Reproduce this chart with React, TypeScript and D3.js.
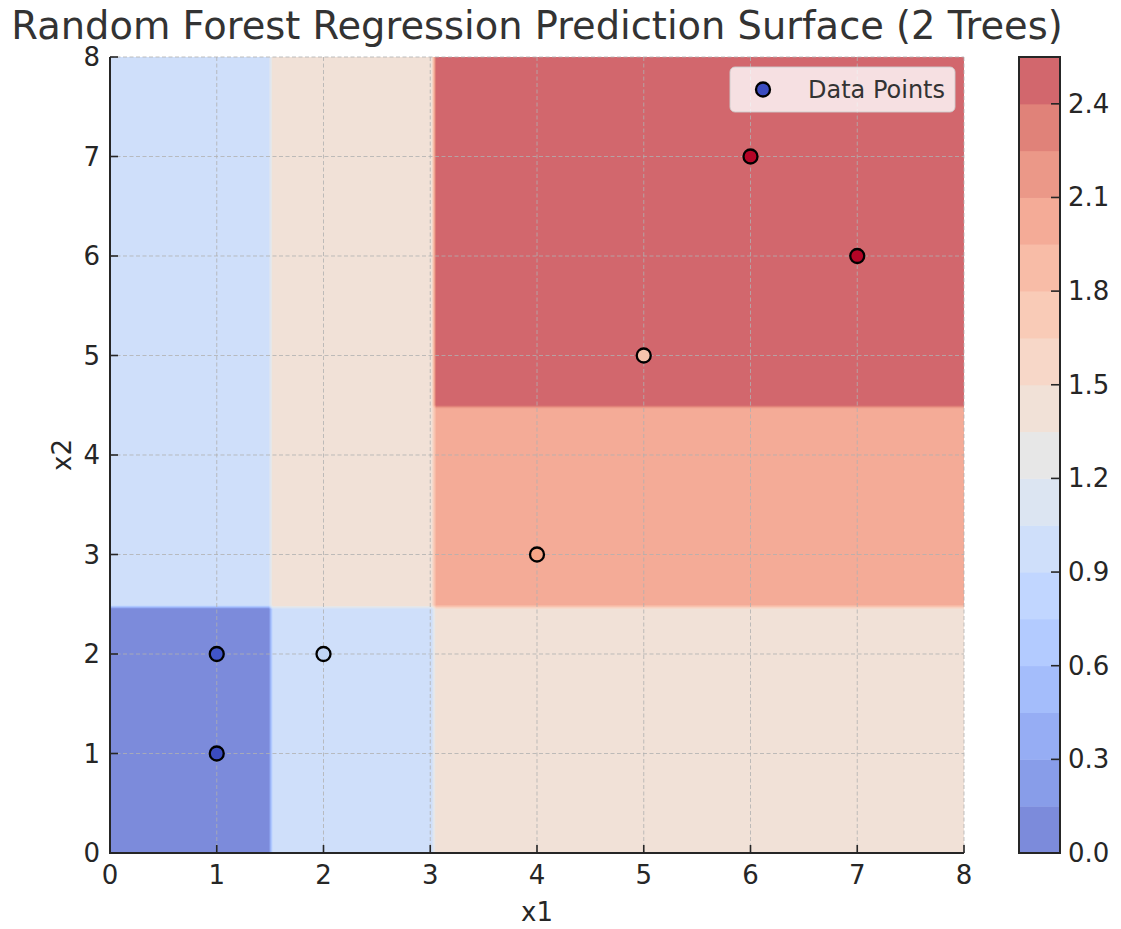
import React from "react";
import * as d3 from "d3";

const title = "Random Forest Regression Prediction Surface (2 Trees)";
const xTicks = [0, 1, 2, 3, 4, 5, 6, 7, 8];
const yTicks = [0, 1, 2, 3, 4, 5, 6, 7, 8];
const cbTicks = [0.0, 0.3, 0.6, 0.9, 1.2, 1.5, 1.8, 2.1, 2.4];
const levels = [0, 0.15, 0.3, 0.45, 0.6, 0.75, 0.9, 1.05, 1.2, 1.35, 1.5, 1.65, 1.8, 1.95, 2.1, 2.25, 2.4, 2.55];

// leaf rectangles of the averaged forest prediction
const regionX0 = [0, 0, 1.5, 1.5, 3.02, 3.02, 3.02];
const regionX1 = [1.5, 1.5, 3.02, 3.02, 8, 8, 8];
const regionY0 = [0, 2.48, 0, 2.48, 0, 2.48, 4.5];
const regionY1 = [2.48, 8, 2.48, 8, 2.48, 4.5, 8];
const regionValue = [0.05, 1.0, 1.0, 1.45, 1.45, 2.0, 2.5];

const pointX = [1, 1, 2, 4, 5, 6, 7];
const pointY = [1, 2, 2, 3, 5, 7, 6];
const pointTarget = [0.0, 0.05, 1.0, 1.8, 1.56, 2.5, 2.5];

// matplotlib coolwarm reference table (33 entries)
const coolwarmTable = [
  [59, 76, 192], [68, 90, 204], [77, 104, 215], [87, 117, 225], [98, 130, 234], [108, 142, 241],
  [119, 154, 247], [130, 165, 251], [141, 176, 254], [152, 185, 255], [163, 194, 255], [174, 201, 253],
  [184, 208, 249], [194, 213, 244], [204, 217, 238], [213, 219, 230], [221, 221, 221], [229, 216, 209],
  [236, 211, 197], [241, 204, 185], [245, 196, 173], [247, 187, 160], [247, 177, 148], [247, 166, 135],
  [244, 154, 123], [241, 141, 111], [236, 127, 99], [229, 112, 88], [222, 96, 77], [213, 80, 66],
  [203, 62, 56], [192, 40, 47], [180, 4, 38],
];

function coolwarm(t: number): number[] {
  const tt = Math.max(0, Math.min(1, t)) * (coolwarmTable.length - 1);
  const i = Math.min(Math.floor(tt), coolwarmTable.length - 2);
  const f = tt - i;
  const a = coolwarmTable[i], b = coolwarmTable[i + 1];
  return [0, 1, 2].map((k) => a[k] + (b[k] - a[k]) * f);
}
const rgb = (c: number[]) => `rgb(${Math.round(c[0])},${Math.round(c[1])},${Math.round(c[2])})`;
const ALPHA = 0.7;
const blend = (c: number[]) => c.map((v) => v * ALPHA + 255 * (1 - ALPHA));
const lvMin = levels[0], lvMax = levels[levels.length - 1];
const bandColor = (i: number) =>
  rgb(blend(coolwarm(((levels[i] + levels[i + 1]) / 2 - lvMin) / (lvMax - lvMin))));

function predict(x: number, y: number): number {
  for (let r = 0; r < regionValue.length; r++) {
    const inX = (x > regionX0[r] || regionX0[r] === 0) && x <= regionX1[r];
    const inY = (y > regionY0[r] || regionY0[r] === 0) && y <= regionY1[r];
    if (inX && inY) return regionValue[r];
  }
  return 0;
}

const W = 1121, H = 929;
const L = 110, R = 964, T = 57, B = 853;
const xs = d3.scaleLinear().domain([0, 8]).range([L, R]);
const ys = d3.scaleLinear().domain([0, 8]).range([B, T]);
const cbX0 = 1019, cbX1 = 1060;
const cbs = d3.scaleLinear().domain([lvMin, lvMax]).range([B, T]);

const N = 200;
const step = 8 / (N - 1);

export default function App() {
  const values: number[] = [];
  for (let j = 0; j < N; j++) {
    for (let i = 0; i < N; i++) values.push(predict(i * step, j * step));
  }
  const contours = d3.contours().size([N, N]).thresholds(levels.slice(0, -1))(values);
  const proj = d3.geoTransform({
    point(this: any, x: number, y: number) {
      this.stream.point(xs((x - 0.5) * step), ys((y - 0.5) * step));
    },
  });
  const path = d3.geoPath(proj);
  const font = "DejaVu Sans, sans-serif";
  const txt = "#262626";
  const pMin = d3.min(pointTarget) as number, pMax = d3.max(pointTarget) as number;

  return (
    <svg width={W} height={H} style={{ position: "absolute", left: 0, top: 0, background: "#fff" }} fontFamily={font}>
      <defs>
        <clipPath id="plotclip">
          <rect x={L} y={T} width={R - L} height={B - T} />
        </clipPath>
      </defs>
      <g clipPath="url(#plotclip)">
        {contours.map((c, i) => (
          <path key={i} d={path(c as any) || ""} fill={bandColor(i)} stroke="none" />
        ))}
      </g>
      {/* grid */}
      <g stroke="#b0b0b0" strokeOpacity={0.8} strokeWidth={1} strokeDasharray="4,2.5">
        {xTicks.map((t) => (
          <line key={"gx" + t} x1={xs(t)} x2={xs(t)} y1={T} y2={B} />
        ))}
        {yTicks.map((t) => (
          <line key={"gy" + t} x1={L} x2={R} y1={ys(t)} y2={ys(t)} />
        ))}
      </g>
      {/* points */}
      {pointX.map((px, i) => (
        <circle key={"p" + i} cx={xs(px)} cy={ys(pointY[i])} r={7}
          fill={rgb(coolwarm((pointTarget[i] - pMin) / (pMax - pMin)))} stroke="#000" strokeWidth={2.3} />
      ))}
      {/* spines */}
      <line x1={L} x2={L} y1={T} y2={B + 1} stroke={txt} strokeWidth={2} />
      <line x1={L - 1} x2={R} y1={B} y2={B} stroke={txt} strokeWidth={2} />
      {/* ticks */}
      {xTicks.map((t) => (
        <g key={"xt" + t}>
          <line x1={xs(t)} x2={xs(t)} y1={B} y2={B - 8} stroke={txt} strokeWidth={1.6} />
          <text x={xs(t)} y={875} textAnchor="middle" dominantBaseline="central" fontSize={26} fill={txt}>{t}</text>
        </g>
      ))}
      {yTicks.map((t) => (
        <g key={"yt" + t}>
          <line x1={L} x2={L + 8} y1={ys(t)} y2={ys(t)} stroke={txt} strokeWidth={1.6} />
          <text x={100} y={ys(t)} textAnchor="end" dominantBaseline="central" fontSize={26} fill={txt}>{t}</text>
        </g>
      ))}
      <text x={(L + R) / 2} y={912} textAnchor="middle" dominantBaseline="central" fontSize={26} fill={txt}>x1</text>
      <text x={0} y={0} transform={`translate(62,${(T + B) / 2}) rotate(-90)`} textAnchor="middle" dominantBaseline="central" fontSize={26} fill={txt}>x2</text>
      <text x={(L + R) / 2} y={39} textAnchor="middle" fontSize={38.4} fill="#333">{title}</text>
      {/* legend */}
      <rect x={730} y={67} width={225} height={45} rx={5} fill="#fff" fillOpacity={0.8} stroke="#cccccc" strokeOpacity={0.9} />
      <circle cx={763} cy={89.5} r={7} fill={rgb(coolwarm(0))} stroke="#000" strokeWidth={2.3} />
      <text x={808} y={89.5} dominantBaseline="central" fontSize={24} fill="#333">Data Points</text>
      {/* colorbar */}
      {levels.slice(0, -1).map((lv, i) => (
        <rect key={"cb" + i} x={cbX0} width={cbX1 - cbX0} y={cbs(levels[i + 1])} height={cbs(lv) - cbs(levels[i + 1]) + 0.5} fill={bandColor(i)} />
      ))}
      <rect x={cbX0} y={T} width={cbX1 - cbX0} height={B - T} fill="none" stroke={txt} strokeWidth={2} />
      {cbTicks.map((t) => (
        <g key={"ct" + t}>
          <line x1={cbX1 - 9} x2={cbX1} y1={cbs(t)} y2={cbs(t)} stroke={txt} strokeWidth={1.6} />
          <text x={1068} y={cbs(t)} dominantBaseline="central" fontSize={26} fill={txt}>{t.toFixed(1)}</text>
        </g>
      ))}
    </svg>
  );
}
